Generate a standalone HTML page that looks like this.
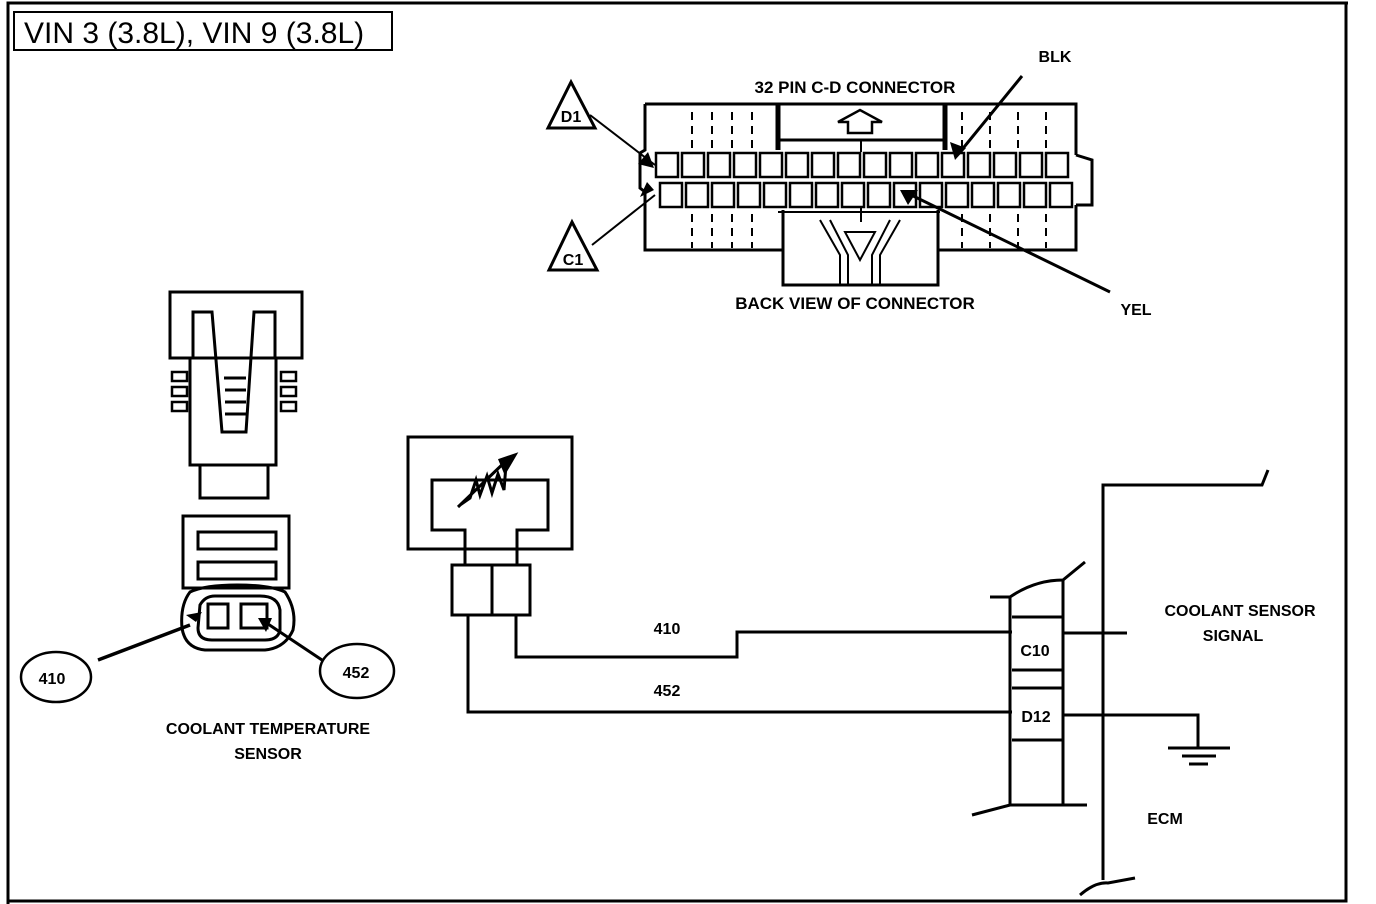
<!DOCTYPE html>
<html><head><meta charset="utf-8"><style>
html,body{margin:0;padding:0;background:#fff;}
svg{display:block;}
text{font-family:"Liberation Sans",sans-serif;font-weight:bold;fill:#000;}
</style></head><body>
<svg width="1376" height="904" viewBox="0 0 1376 904" xmlns="http://www.w3.org/2000/svg">
<g fill="none" stroke="#000" stroke-width="3" stroke-linejoin="miter">
<path d="M8,904 V3 H1348"/>
<path d="M1346,2 V901 H8"/>
<rect x="14" y="12" width="378" height="38" stroke-width="2"/>

<path d="M571,82 L548,128 L595,128 Z"/>
<path d="M572,222 L549,270 L597,270 Z"/>
<line x1="590" y1="115" x2="655" y2="165" stroke-width="2"/>
<line x1="592" y1="245" x2="655" y2="195" stroke-width="2"/>

<path d="M645,104 H778 M945,104 H1076 V155 M645,104 V150 L640,153 V188 L645,192 V250 H783 M938,250 H1076 V205"/>
<path d="M1076,155 L1092,160 V205 H1076"/>
<rect x="778" y="104" width="167" height="36"/>
<line x1="778" y1="104" x2="778" y2="150" stroke-width="5"/>
<line x1="945" y1="104" x2="945" y2="150" stroke-width="5"/>
<path d="M848,133 V122 H838 L860,110 L882,122 H872 V133 Z" stroke-width="2.5"/>
<line x1="861" y1="140" x2="861" y2="152" stroke-width="2"/>
<path d="M783,210 V285 H938 V210"/>
<path d="M820,220 L840,255 V285 M830,220 L848,255 V285 M900,220 L880,255 V285 M890,220 L872,255 V285 M845,232 H875 L860,260 Z" stroke-width="2"/>
<line x1="861" y1="208" x2="861" y2="222" stroke-width="2"/>
<line x1="778" y1="212" x2="940" y2="212" stroke-width="2"/>
<g stroke-width="2" stroke-dasharray="8,6">
<path d="M692,112 V148 M712,112 V148 M732,112 V148 M752,112 V148 M962,112 V148 M990,112 V148 M1018,112 V148 M1046,112 V148"/>
<path d="M692,214 V248 M712,214 V248 M732,214 V248 M752,214 V248 M962,214 V248 M990,214 V248 M1018,214 V248 M1046,214 V248"/>
</g>
<g stroke-width="2.5">
<rect x="656" y="153" width="22" height="24"/><rect x="682" y="153" width="22" height="24"/><rect x="708" y="153" width="22" height="24"/><rect x="734" y="153" width="22" height="24"/><rect x="760" y="153" width="22" height="24"/><rect x="786" y="153" width="22" height="24"/><rect x="812" y="153" width="22" height="24"/><rect x="838" y="153" width="22" height="24"/><rect x="864" y="153" width="22" height="24"/><rect x="890" y="153" width="22" height="24"/><rect x="916" y="153" width="22" height="24"/><rect x="942" y="153" width="22" height="24"/><rect x="968" y="153" width="22" height="24"/><rect x="994" y="153" width="22" height="24"/><rect x="1020" y="153" width="22" height="24"/><rect x="1046" y="153" width="22" height="24"/>
<rect x="660" y="183" width="22" height="24"/><rect x="686" y="183" width="22" height="24"/><rect x="712" y="183" width="22" height="24"/><rect x="738" y="183" width="22" height="24"/><rect x="764" y="183" width="22" height="24"/><rect x="790" y="183" width="22" height="24"/><rect x="816" y="183" width="22" height="24"/><rect x="842" y="183" width="22" height="24"/><rect x="868" y="183" width="22" height="24"/><rect x="894" y="183" width="22" height="24"/><rect x="920" y="183" width="22" height="24"/><rect x="946" y="183" width="22" height="24"/><rect x="972" y="183" width="22" height="24"/><rect x="998" y="183" width="22" height="24"/><rect x="1024" y="183" width="22" height="24"/><rect x="1050" y="183" width="22" height="24"/>
</g>
<line x1="1022" y1="76" x2="960" y2="152" stroke-width="3"/>
<line x1="1110" y1="292" x2="905" y2="192" stroke-width="3"/>

<rect x="170" y="292" width="132" height="66"/>
<path d="M190,358 V465 H276 V358"/>
<path d="M193,358 V312 H212 L222,432 H246 L254,312 H275 V358" stroke-width="3"/>
<path d="M224,378 H246 M225,390 H246 M225,402 H246 M225,414 H246" stroke-width="3"/>
<rect x="200" y="465" width="68" height="33"/>
<g stroke-width="2.5">
<rect x="172" y="372" width="15" height="9"/><rect x="172" y="387" width="15" height="9"/><rect x="172" y="402" width="15" height="9"/>
<rect x="281" y="372" width="15" height="9"/><rect x="281" y="387" width="15" height="9"/><rect x="281" y="402" width="15" height="9"/>
</g>
<rect x="183" y="516" width="106" height="72"/>
<rect x="198" y="532" width="78" height="17"/>
<rect x="198" y="562" width="78" height="17"/>
<path d="M190,592 Q205,585 237,585 Q270,585 285,592 Q297,610 293,630 Q285,648 265,650 H205 Q185,648 182,628 Q180,605 190,592 Z"/>
<path d="M200,605 Q205,596 215,596 H260 Q278,596 280,610 V630 Q278,640 265,640 H212 Q198,640 198,628 Z"/>
<rect x="208" y="604" width="20" height="24"/>
<rect x="241" y="604" width="26" height="24"/>
<line x1="98" y1="660" x2="190" y2="625" stroke-width="3.5"/>
<line x1="322" y1="660" x2="262" y2="620" stroke-width="3"/>
<ellipse cx="56" cy="677" rx="35" ry="25" stroke-width="2.5"/>
<ellipse cx="357" cy="671" rx="37" ry="27" stroke-width="2.5"/>

<rect x="408" y="437" width="164" height="112"/>
<path d="M465,565 V530 H432 V480 H548 V530 H517 V565"/>
<rect x="452" y="565" width="40" height="50"/>
<rect x="492" y="565" width="38" height="50"/>
<path d="M468,615 V712 H1012"/>
<path d="M516,615 V657 H737 V632 H1012"/>
<path d="M460,505 L470,498 L476,480 L480,495 L487,476 L492,493 L498,474 L504,490 L506,465 M458,507 L507,460" stroke-width="3"/>
<path d="M500,460 L515,455 L505,472 Z" fill="#000"/>

<path d="M990,597 H1010 Q1035,580 1063,580 L1085,562"/>
<path d="M1010,597 V805 M1063,580 V805"/>
<path d="M1012,617 H1063 M1012,670 H1063 M1012,688 H1063 M1012,740 H1063"/>
<path d="M972,815 L1010,805 H1087"/>
<path d="M1063,633 H1127"/>
<path d="M1063,715 H1198 V748 M1168,748 H1230 M1182,756 H1216 M1189,764 H1208"/>
<path d="M1103,880 V485 H1262 L1268,470"/>
<path d="M1080,895 Q1095,882 1108,883 L1135,878"/>
</g>
<g fill="#000">
<path d="M955,160 L950,142 L966,148 Z"/>
<path d="M900,190 L918,190 L908,205 Z"/>
<path d="M654,168 L638,164 L648,152 Z"/>
<path d="M654,190 L640,197 L647,182 Z"/>
<path d="M196,622 L186,615 L202,612 Z"/>
<path d="M258,618 L272,618 L266,632 Z"/>
</g>

<text x="24" y="43" style="font-weight:normal;font-size:30px">VIN 3 (3.8L), VIN 9 (3.8L)</text>
<g font-size="16">
<text x="855" y="93" text-anchor="middle" font-size="17">32 PIN C-D  CONNECTOR</text>
<text x="855" y="309" text-anchor="middle" font-size="17">BACK VIEW OF CONNECTOR</text>
<text x="1055" y="62" text-anchor="middle">BLK</text>
<text x="1136" y="315" text-anchor="middle">YEL</text>
<text x="571" y="122" text-anchor="middle">D1</text>
<text x="573" y="265" text-anchor="middle">C1</text>
<text x="52" y="684" text-anchor="middle">410</text>
<text x="356" y="678" text-anchor="middle">452</text>
<text x="268" y="734" text-anchor="middle">COOLANT TEMPERATURE</text>
<text x="268" y="759" text-anchor="middle">SENSOR</text>
<text x="667" y="634" text-anchor="middle">410</text>
<text x="667" y="696" text-anchor="middle">452</text>
<text x="1035" y="656" text-anchor="middle">C10</text>
<text x="1036" y="722" text-anchor="middle">D12</text>
<text x="1240" y="616" text-anchor="middle">COOLANT SENSOR</text>
<text x="1233" y="641" text-anchor="middle">SIGNAL</text>
<text x="1165" y="824" text-anchor="middle">ECM</text>
</g>
</svg>
</body></html>
